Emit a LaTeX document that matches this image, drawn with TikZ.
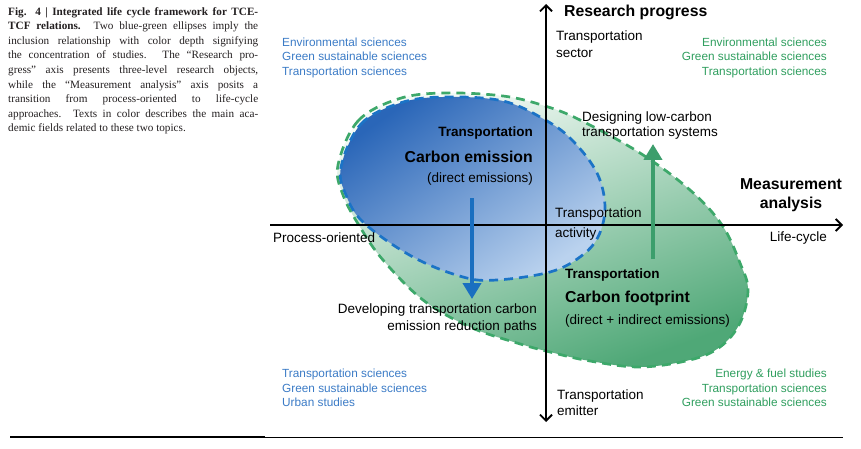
\documentclass[tikz,border=0pt]{standalone}
\usepackage{fontspec}
\setmainfont{Liberation Serif}
\setsansfont{Liberation Sans}
\usetikzlibrary{arrows.meta}

\definecolor{capText}{HTML}{231F20}
\definecolor{blueDark}{HTML}{2A66B8}
\definecolor{blueLight}{HTML}{BAD2EE}
\definecolor{blueLine}{HTML}{1B73C6}
\definecolor{blueText}{HTML}{3B7BC6}
\definecolor{greenLight}{HTML}{F4FAF6}
\definecolor{greenDark}{HTML}{4FA877}
\definecolor{greenLine}{HTML}{3DA86A}
\definecolor{greenText}{HTML}{2F9E5E}
\definecolor{arrowBlue}{HTML}{1A6FC0}
\definecolor{arrowGreen}{HTML}{3C9E6C}

\tikzset{
  axis/.style={line width=1.8pt, black},
  label/.style={inner sep=0pt, font=\sffamily\fontsize{13.5}{17}\selectfont},
  headline/.style={inner sep=0pt, font=\sffamily\bfseries\fontsize{15.8}{19}\selectfont},
  subhead/.style={inner sep=0pt, font=\sffamily\bfseries\fontsize{13.5}{17}\selectfont},
  field/.style={inner sep=0pt, font=\sffamily\fontsize{11.8}{14.5}\selectfont},
  zone/.style={line width=2.7pt, dash pattern=on 9pt off 6pt},
  trend/.style={line width=4.6pt, -{Triangle[length=16pt,width=18pt]}}
}

\begin{document}
\begin{tikzpicture}[x=1pt,y=-1pt]
  \useasboundingbox (0,0) rectangle (861,449);

  % Caption text on the left
  \node[anchor=north west, inner sep=0pt, text width=250pt, align=justify,
        text=capText, font=\fontsize{11.2}{14.6}\selectfont] (caption) at (8,7)
    {\textbf{Fig. 4 | Integrated life cycle framework for TCE-\linebreak
     TCF relations.} Two blue-green ellipses imply the\linebreak
     inclusion relationship with color depth signifying\linebreak
     the concentration of studies. The “Research pro-\linebreak
     gress” axis presents three-level research objects,\linebreak
     while the “Measurement analysis” axis posits a\linebreak
     transition from process-oriented to life-cycle\linebreak
     approaches. Texts in color describes the main aca-\linebreak
     demic fields related to these two topics.};

  % Green zone (carbon footprint)
  \draw[zone, greenLine, top color=greenLight, bottom color=greenDark, shading angle=20]
    plot[smooth cycle, tension=0.6] coordinates {
      (338,165) (358,121) (398,99) (443,93) (503,96) (545,106) (580,120)
      (640,153) (690,190) (722,225) (740,263) (748,290) (740,323) (720,347)
      (690,360) (640,367) (590,361) (550,352) (517,343) (470,327) (423,300)
      (383,260) (360,227) (343,195)};

  % Blue zone (carbon emission)
  \draw[zone, blueLine, top color=blueDark, bottom color=blueLight, shading angle=35]
    plot[smooth cycle, tension=0.6] coordinates {
      (341,167) (361,124) (400,103) (443,97) (503,101) (547,121) (573,141)
      (597,173) (605,207) (598,237) (580,257) (550,272) (497,280) (463,277)
      (413,257) (364,223) (346,195)};

  % Axes
  \coordinate (origin) at (546,225);
  \coordinate (yTop) at (546,4);
  \coordinate (yBot) at (546,422);
  \coordinate (xLeft) at (270,225);
  \coordinate (xRight) at (843,225);
  \draw[axis, {Straight Barb[length=6pt,width=12pt]}-{Straight Barb[length=6pt,width=12pt]}] (yBot) -- (yTop);
  \draw[axis, -{Straight Barb[length=6pt,width=12pt]}] (xLeft) -- (xRight);

  % Trend arrows
  \coordinate (emisStart) at (472,198);
  \coordinate (emisEnd) at (472,299);
  \coordinate (footStart) at (653,259);
  \coordinate (footEnd) at (653,144);
  \draw[trend, arrowBlue] (emisStart) -- (emisEnd);
  \draw[trend, arrowGreen] (footStart) -- (footEnd);

  % Axis titles and ends
  \node[headline, anchor=west] (research) at (564,12) {Research progress};
  \node[headline, anchor=center, align=center] (measure) at (791,195) {Measurement\\analysis};
  \node[label, anchor=east] (lifecycle) at (827,238) {Life-cycle};
  \node[label, anchor=west] (process) at (273,238) {Process-oriented};
  \node[label, anchor=west, align=left] (sector) at (556,44.5) {Transportation\\sector};
  \node[label, anchor=west, align=left, font=\sffamily\fontsize{13.5}{20}\selectfont] (activity) at (555,224) {Transportation\\activity};
  \node[label, anchor=west, align=left, font=\sffamily\fontsize{13.5}{16}\selectfont] (emitter) at (557,403) {Transportation\\emitter};

  % Zone texts
  \node[subhead, anchor=east] (emisTitle) at (533,133) {Transportation};
  \node[headline, anchor=east] (emisName) at (533,157) {Carbon emission};
  \node[label, anchor=east] (emisNote) at (533,179) {(direct emissions)};
  \node[subhead, anchor=west] (footTitle) at (565,275) {Transportation};
  \node[headline, anchor=west] (footName) at (565,298) {Carbon footprint};
  \node[label, anchor=west] (footNote) at (565,321) {(direct + indirect emissions)};

  % Arrow texts
  \node[label, anchor=east, align=right] (reduce) at (537,318.5) {Developing transportation carbon\\emission reduction paths};
  \node[label, anchor=west, align=left, font=\sffamily\fontsize{13.5}{15.5}\selectfont] (design) at (582,125.5) {Designing low-carbon\\transportation systems};

  % Academic fields
  \node[field, text=blueText, anchor=west, align=left] (blueTop) at (282,57.5)
    {Environmental sciences\\Green sustainable sciences\\Transportation sciences};
  \node[field, text=greenText, anchor=east, align=right] (greenTop) at (827,57.5)
    {Environmental sciences\\Green sustainable sciences\\Transportation sciences};
  \node[field, text=blueText, anchor=west, align=left] (blueBot) at (282,388)
    {Transportation sciences\\Green sustainable sciences\\Urban studies};
  \node[field, text=greenText, anchor=east, align=right] (greenBot) at (827,388)
    {Energy \& fuel studies\\Transportation sciences\\Green sustainable sciences};

  % Bottom rule
  \coordinate (ruleA) at (10,437);
  \coordinate (ruleB) at (265,437);
  \coordinate (ruleC) at (843,437);
  \draw[line width=1.6pt] (ruleA) -- (ruleB);
  \draw[line width=0.8pt] (ruleB) -- (ruleC);
\end{tikzpicture}
\end{document}
